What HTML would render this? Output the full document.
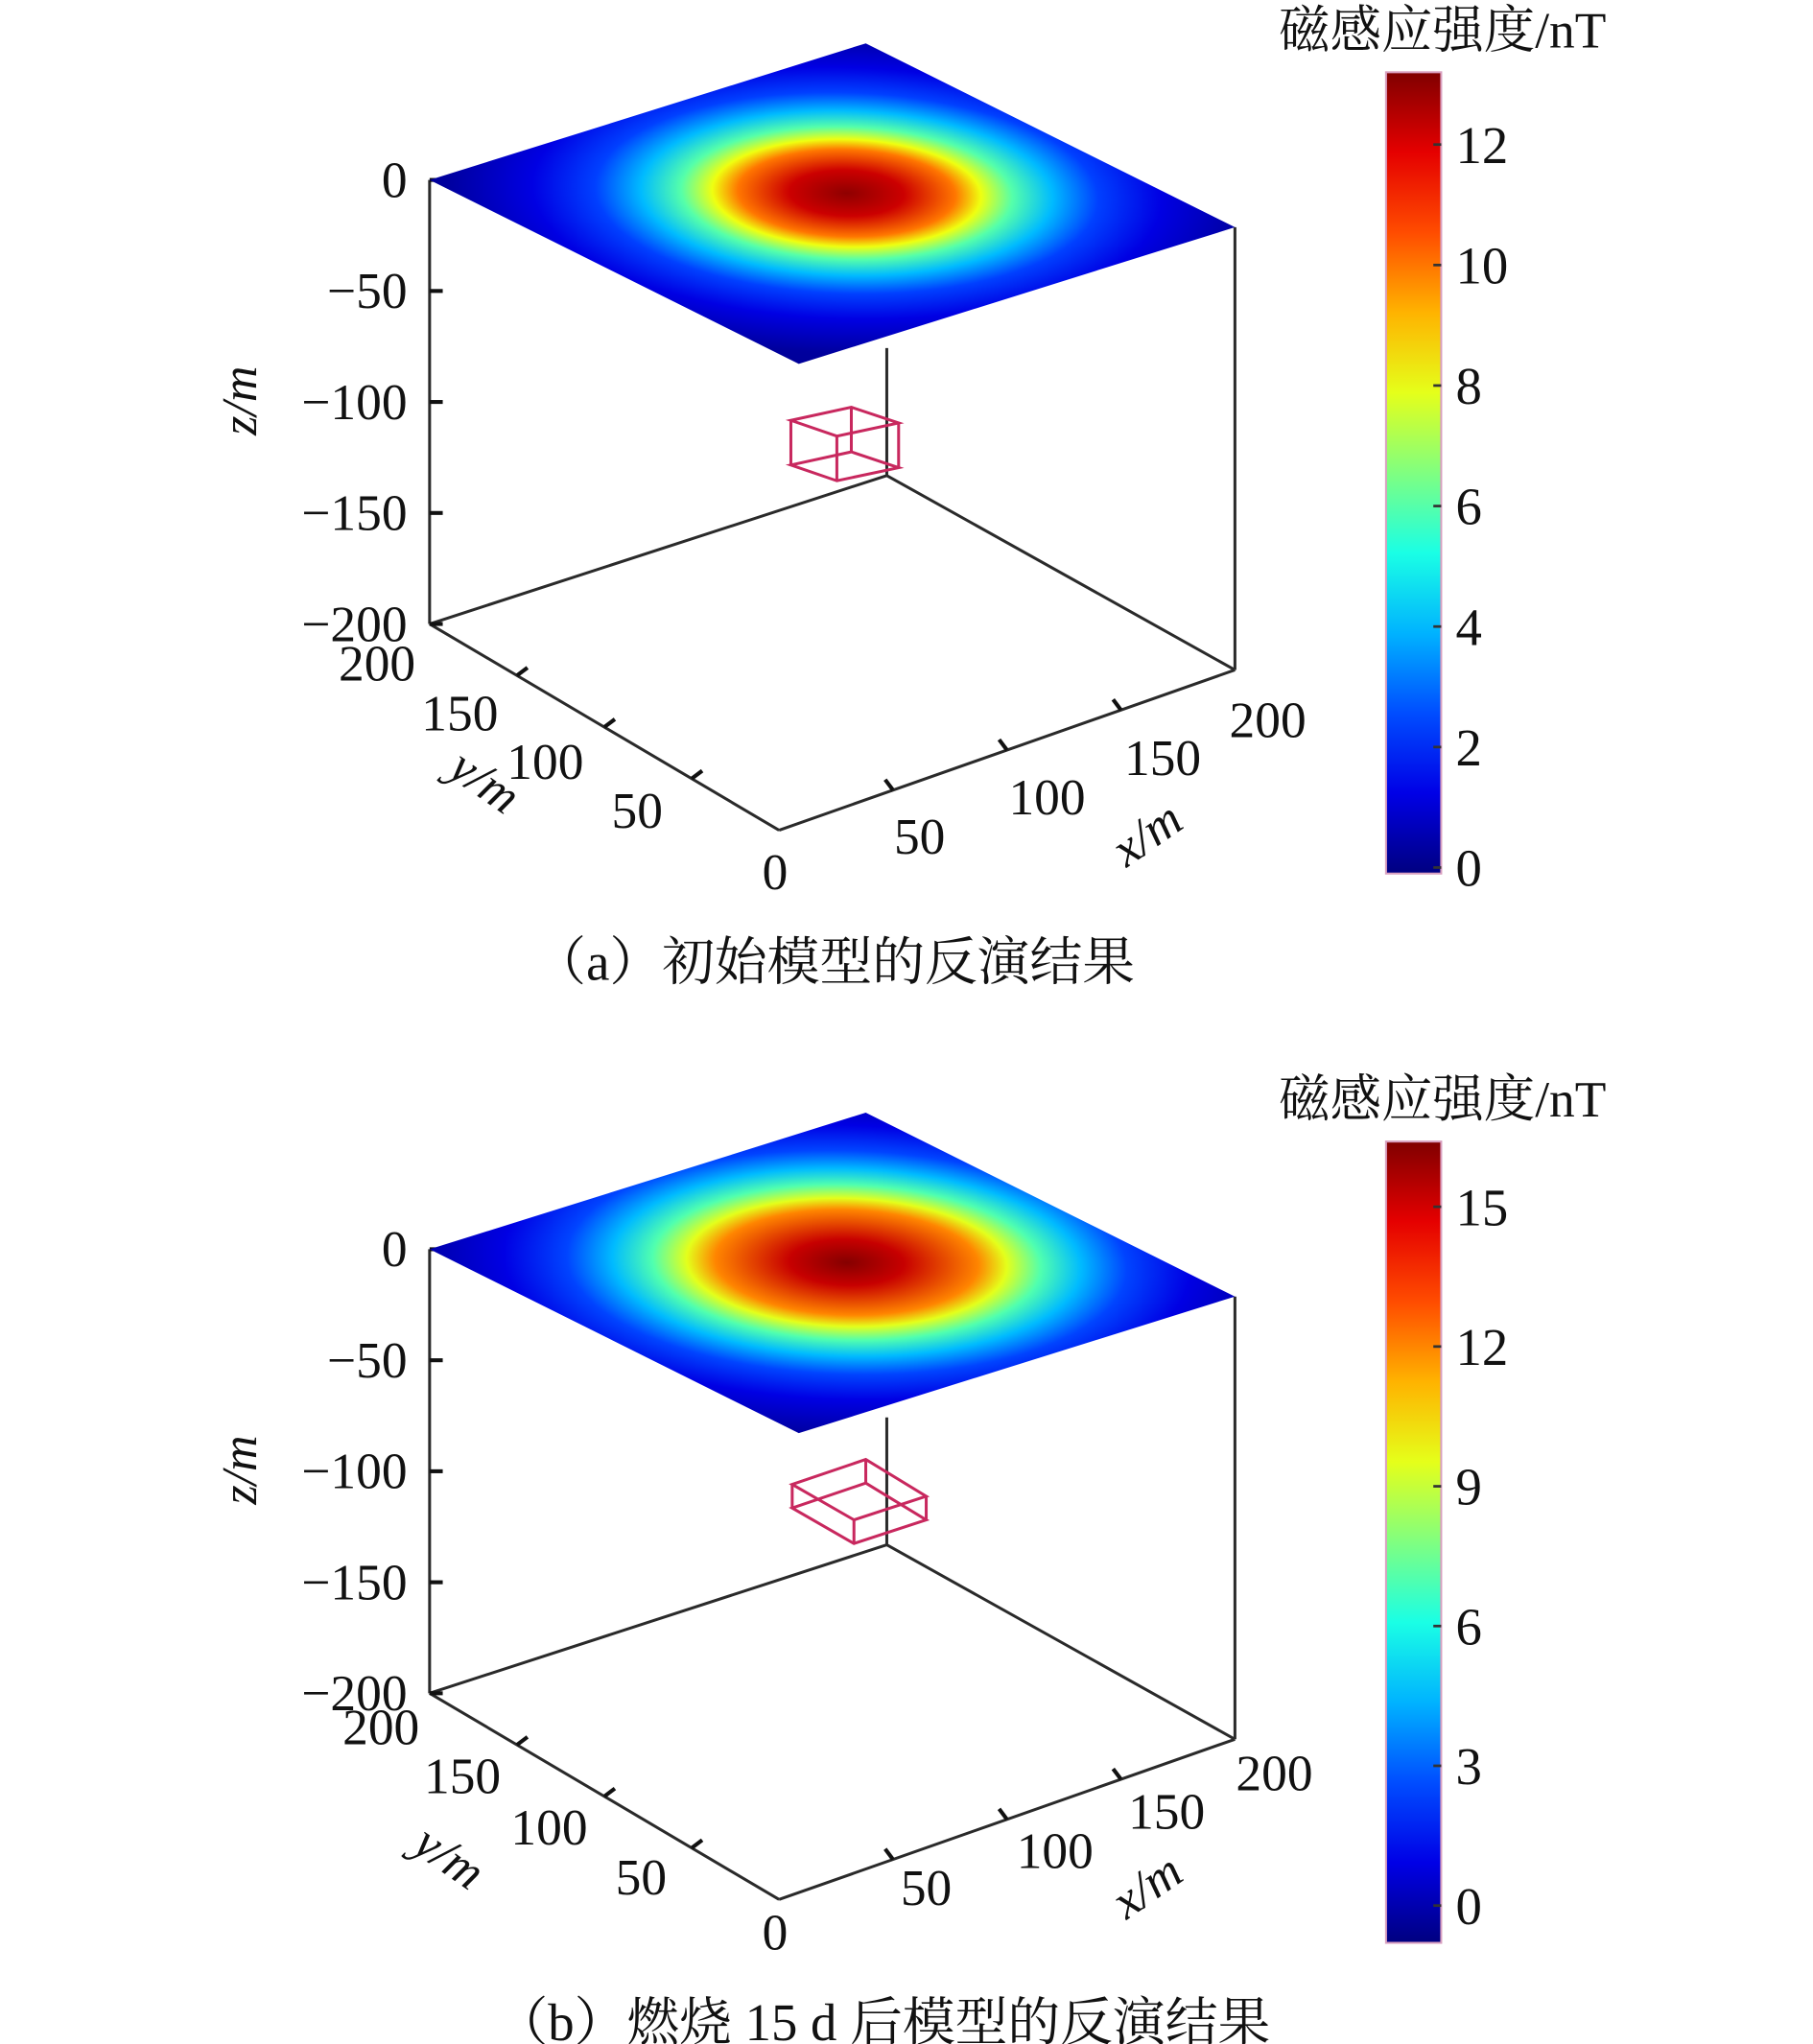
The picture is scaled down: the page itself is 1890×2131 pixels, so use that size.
<!DOCTYPE html>
<html><head><meta charset="utf-8">
<style>
html,body{margin:0;padding:0;background:#fff;}
svg{display:block;}
text{font-family:"Liberation Serif","Noto Serif CJK SC",serif;fill:#111;}
.cjk{font-family:"Liberation Serif","Noto Serif CJK SC","Noto Sans CJK SC",serif;}
</style></head>
<body>
<svg id="fig" width="1890" height="2131" viewBox="0 0 1380 1556" preserveAspectRatio="none" xmlns="http://www.w3.org/2000/svg">
<defs></defs>
</svg>
<script>
// ---- data ----
const zTicks = [0, -50, -100, -150, -200];
const xyTicks = [0, 50, 100, 150, 200];
const cbTicksA = [0, 2, 4, 6, 8, 10, 12];
const cbTicksB = [0, 3, 6, 9, 12, 15];
const cbMaxA = 13.2, cbMinA = -0.1;
const cbMaxB = 16.4, cbMinB = -0.8;
const profRadii = [0, 0.1, 0.19, 0.235, 0.29, 0.36, 0.44, 0.55, 0.7, 1.0];
const profValsA = [13, 12.2, 10, 8, 6, 4, 2.4, 1.2, 0.3, -0.1];
const profRadiiB = [0, 0.1, 0.23, 0.28, 0.34, 0.41, 0.49, 0.6, 0.75, 1.0];
const profValsB = [16.3, 15.2, 12, 9.5, 7, 4.5, 2.5, 0.9, -0.2, -0.7];

const NS = "http://www.w3.org/2000/svg";
const svg = document.getElementById('fig');
const defs = svg.querySelector('defs');
function mk(tag, attrs, parent){const e=document.createElementNS(NS,tag);for(const k in attrs)e.setAttribute(k,attrs[k]);(parent||svg).appendChild(e);return e;}

function jet(t){t=Math.max(0,Math.min(1,t));
  const c=x=>Math.round(255*Math.max(0,Math.min(1,x)));
  const r=1.5-Math.abs(4*t-3), g=1.5-Math.abs(4*t-2), b=1.5-Math.abs(4*t-1);
  return `rgb(${c(r)},${c(g)},${c(b)})`;}

function panel(id, dy, radii, vals, vmin, vmax, cbTicks, cube, xl, yl){
  const g = mk('g',{transform:`translate(0,${dy})`});
  
  
  const L=[327,137], R=[940,173], Bk=[675,362], F=[593,632], LB=[327,475], RB=[940,510];
  const zScale = v => 137 + (0 - v) * (475-137)/200;
  const edges=[[LB,F],[F,RB],[Bk,LB],[Bk,RB],[[675,265],Bk],[L,LB],[R,RB]];
  edges.forEach((e,i)=>{const l=mk('line',{x1:e[0][0],y1:e[0][1],x2:e[1][0],y2:e[1][1],stroke:'#2a2a2a','stroke-width':2.2},g);
    
    });
  zTicks.forEach(v=>{const y=zScale(v);
    mk('line',{x1:327,y1:y,x2:337,y2:y,stroke:'#111','stroke-width':3},g);
    const t=mk('text',{x:310,y:y+13,'text-anchor':'end','font-size':39},g);
    t.textContent = v<0 ? '\u2212'+(-v) : String(v);
    
    });
  const zt=mk('text',{x:0,y:0,'font-size':38,'text-anchor':'middle','font-style':'italic',transform:'translate(195,305) rotate(-90)'},g);
  zt.textContent='z/m';
  
  
  xyTicks.forEach((v,i)=>{const f=(200-v)/200;
    const x=LB[0]+(F[0]-LB[0])*f, y=LB[1]+(F[1]-LB[1])*f;
    if(v>0&&v<200) mk('line',{x1:x,y1:y,x2:x+8,y2:y-6,stroke:'#111','stroke-width':3},g);
    const t=mk('text',{x:yl[i][0],y:yl[i][1],'text-anchor':'middle','font-size':39},g);
    t.textContent=String(v);
    
    });
  const yt=mk('text',{x:0,y:0,'font-size':38,'text-anchor':'middle','font-style':'italic',transform:`translate(${yl[5][0]},${yl[5][1]}) rotate(35)`},g);
  yt.textContent='y/m';
  
  
  xyTicks.forEach((v,i)=>{const f=v/200;
    const x=F[0]+(RB[0]-F[0])*f, y=F[1]+(RB[1]-F[1])*f;
    if(v>0&&v<200) mk('line',{x1:x,y1:y,x2:x-6,y2:y-8,stroke:'#111','stroke-width':3},g);
    if(v>0){const t=mk('text',{x:xl[i][0],y:xl[i][1],'text-anchor':'middle','font-size':39},g);
    t.textContent=String(v);
    
    }});
  const xt=mk('text',{x:0,y:0,'font-size':38,'text-anchor':'middle','font-style':'italic',transform:`translate(${xl[5][0]},${xl[5][1]}) rotate(-35)`},g);
  xt.textContent='x/m';
  
  
  const grad=mk('radialGradient',{id:'rg'+id,gradientUnits:'userSpaceOnUse',cx:0.55,cy:0.48,r:1},defs);
  radii.forEach((r,i)=>mk('stop',{offset:r,'stop-color':jet((vals[i]-vmin)/(vmax-vmin))},grad));
  const plane=mk('g',{transform:'matrix(332,-104,281,140,327,137)'},g);
  const pr=mk('rect',{x:0,y:0,width:1,height:1,fill:`url(#rg${id})`},plane);
  
  
  const cg=mk('g',{fill:'none',stroke:'#c8285e','stroke-width':2.2},g);
  
  
  const h=cube.h, tp=cube.top, bt=tp.map(p=>[p[0],p[1]+h]);
  const poly=pts=>pts.map(p=>p.join(',')).join(' ');
  mk('polygon',{points:poly(tp)},cg);mk('polygon',{points:poly(bt)},cg);
  tp.forEach((p,i)=>mk('line',{x1:p[0],y1:p[1],x2:bt[i][0],y2:bt[i][1]},cg));
  const cbX=1055, cbW=42, cbT=55, cbB=665;
  const cgr=mk('linearGradient',{id:'cb'+id,x1:0,y1:1,x2:0,y2:0},defs);
  for(let i=0;i<=10;i++){mk('stop',{offset:i/10,'stop-color':jet(i/10)},cgr);}
  const cb=mk('rect',{x:cbX,y:cbT,width:cbW,height:cbB-cbT,fill:`url(#cb${id})`,stroke:'#d9a0c0','stroke-width':1.5},g);
  
  
  const cy=v=>cbB-(v-vmin)/(vmax-vmin)*(cbB-cbT);
  cbTicks.forEach(v=>{const y=cy(v);
    mk('line',{x1:cbX+cbW-6,y1:y,x2:cbX+cbW,y2:y,stroke:'#333','stroke-width':2},g);
    const t=mk('text',{x:1108,y:y+14,'font-size':40},g);
    t.textContent=String(v);
    
    });
  const ct=mk('text',{x:1098,y:36,'text-anchor':'middle','font-size':39,'class':'cjk'},g);
  ct.textContent='磁感应强度/nT';
  
  
}

panel('a',0,profRadii,profValsA,cbMinA,cbMaxA,cbTicksA,
  {top:[[602,320],[648,310],[684,322],[637,332]],h:34},
  [[0,0],[700,650],[797,620],[885,590],[965,561],[880,645]],
  [[590,677],[485,630],[415,593],[350,556],[287,518],[362,605]]);
panel('b',814,profRadiiB,profValsB,cbMinB,cbMaxB,cbTicksB,
  {top:[[603,316],[659,297],[705,325],[650,343]],h:18},
  [[0,0],[705,636],[803,608],[888,578],[970,549],[880,632]],
  [[590,670],[488,628],[418,590],[352,551],[290,514],[335,610]]);

const capA=mk('text',{x:635,y:746,'text-anchor':'middle','font-size':40,'class':'cjk'});
capA.textContent='（a）初始模型的反演结果';


const capB=mk('text',{x:672,y:1553,'text-anchor':'middle','font-size':40,'class':'cjk'});
capB.textContent='（b）燃烧 15 d 后模型的反演结果';


</script>
</body></html>
